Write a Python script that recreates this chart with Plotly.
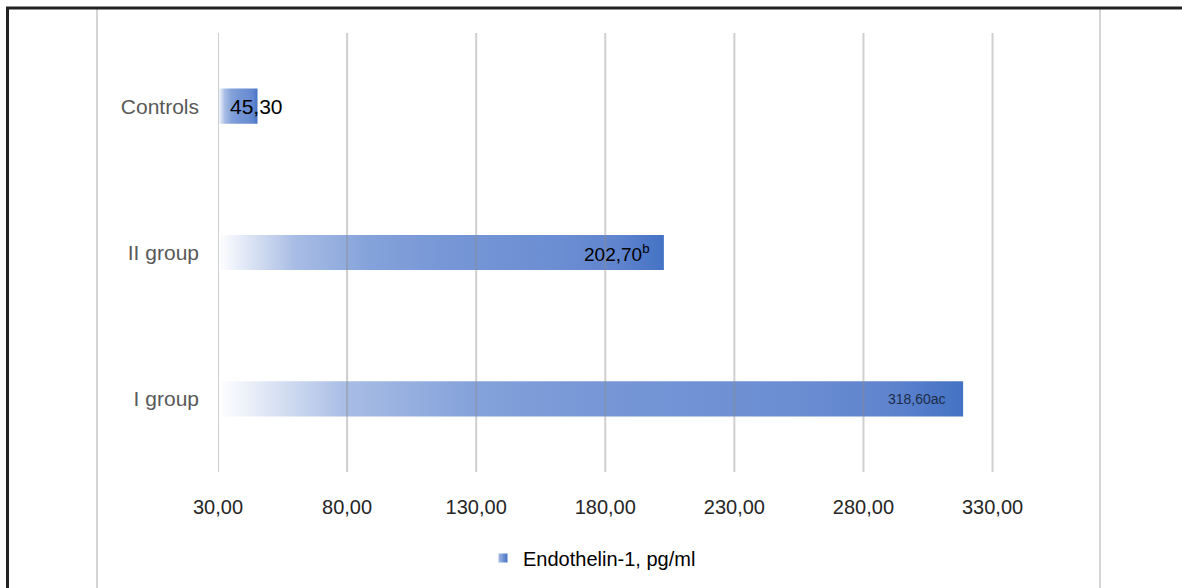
import plotly.graph_objects as go

# Endothelin-1 by group (pg/ml)
categories = ["I group", "II group", "Controls"]
values = [318.60, 202.70, 45.30]
value_labels = ["318,60ac", "202,70<sup style='font-size:12px'>b</sup>", "45,30"]
tick_values = [30, 80, 130, 180, 230, 280, 330]
tick_labels = ["30,00", "80,00", "130,00", "180,00", "230,00", "280,00", "330,00"]
series_name = "Endothelin-1, pg/ml"

AXIS_MIN = 30
BAR_HALF = 0.12
FONT = "Liberation Sans, Arial, sans-serif"

grad_scale = [
    [0.0, "#ffffff"],
    [0.11, "#c8d5ee"],
    [0.17, "#a9bde5"],
    [0.34, "#84a2da"],
    [0.5, "#7797d6"],
    [0.77, "#6b8dd2"],
    [0.9, "#5f84ce"],
    [1.0, "#4472c4"],
]

fig = go.Figure()

# each bar is a filled polygon so it can carry a horizontal gradient
for i, (cat, v) in enumerate(zip(categories, values)):
    fig.add_trace(go.Scatter(
        x=[AXIS_MIN, v, v, AXIS_MIN, AXIS_MIN],
        y=[i - BAR_HALF, i - BAR_HALF, i + BAR_HALF, i + BAR_HALF, i - BAR_HALF],
        mode="lines",
        line=dict(width=0),
        fill="toself",
        fillgradient=dict(type="horizontal", colorscale=grad_scale),
        hoverinfo="skip",
        showlegend=False,
        name=cat,
    ))

# legend entry with a small gradient swatch
fig.add_trace(go.Scatter(
    x=[None], y=[None],
    mode="markers",
    marker=dict(symbol="square", size=9, color="#a3b8e4",
                gradient=dict(type="horizontal", color="#4472c4"),
                line=dict(width=0)),
    name=series_name,
    showlegend=True,
))

# value labels
label_style = [
    dict(xanchor="right", xshift=-15, font=dict(size=14, color="#1c2b48")),
    dict(xanchor="right", xshift=-12, font=dict(size=19, color="#000000")),
    dict(xanchor="center", xshift=-1, font=dict(size=21, color="#000000")),
]
for i, (v, lab) in enumerate(zip(values, value_labels)):
    st = label_style[i]
    fig.add_annotation(
        x=v, y=i, xref="x", yref="y", text=lab, showarrow=False,
        xanchor=st["xanchor"], yanchor="middle", xshift=st["xshift"],
        font=dict(family=FONT, **st["font"]),
    )

# vertical gridlines drawn above the bars
for t in tick_values:
    fig.add_shape(type="line", xref="x", yref="paper", x0=t, x1=t, y0=0, y1=1,
                  line=dict(color="rgba(140,140,140,0.42)", width=2), layer="above")

# surrounding frame
L, R, T, B = 218, 1070, 33, 473
W, H = R - L, B - T


def px(x):
    return (x - L) / W


def py(y):
    return (B - y) / H


for xv in (97, 1100):
    fig.add_shape(type="line", xref="paper", yref="paper",
                  x0=px(xv), x1=px(xv), y0=py(9), y1=py(590),
                  line=dict(color="#d4d4d4", width=2), layer="below")
fig.add_shape(type="line", xref="paper", yref="paper",
              x0=px(7.5), x1=px(7.5), y0=py(7.5), y1=py(592),
              line=dict(color="#222222", width=3))
fig.add_shape(type="line", xref="paper", yref="paper",
              x0=px(6), x1=px(1190), y0=py(8), y1=py(8),
              line=dict(color="#222222", width=3))

fig.update_layout(
    width=1182, height=588,
    margin=dict(l=L, r=1182 - R, t=T, b=588 - B),
    paper_bgcolor="white", plot_bgcolor="white",
    font=dict(family=FONT, size=20, color="#262626"),
    xaxis=dict(
        range=[AXIS_MIN, 360], tickvals=tick_values, ticktext=tick_labels,
        showgrid=False, zeroline=False, showline=False, ticks="",
        ticklabelstandoff=21, fixedrange=True,
        tickfont=dict(size=20, color="#262626"),
    ),
    yaxis=dict(
        range=[-0.5, 2.5], tickvals=list(range(len(categories))), ticktext=categories,
        showgrid=False, zeroline=False, showline=False, ticks="",
        ticklabelstandoff=18, fixedrange=True,
        tickfont=dict(size=21, color="#595959"),
    ),
    legend=dict(orientation="h", x=px(483), xanchor="left", y=py(558), yanchor="middle",
                font=dict(size=20, color="#000000"), bgcolor="rgba(0,0,0,0)",
                itemwidth=30),
    showlegend=True,
)

fig.write_html("out.html")
